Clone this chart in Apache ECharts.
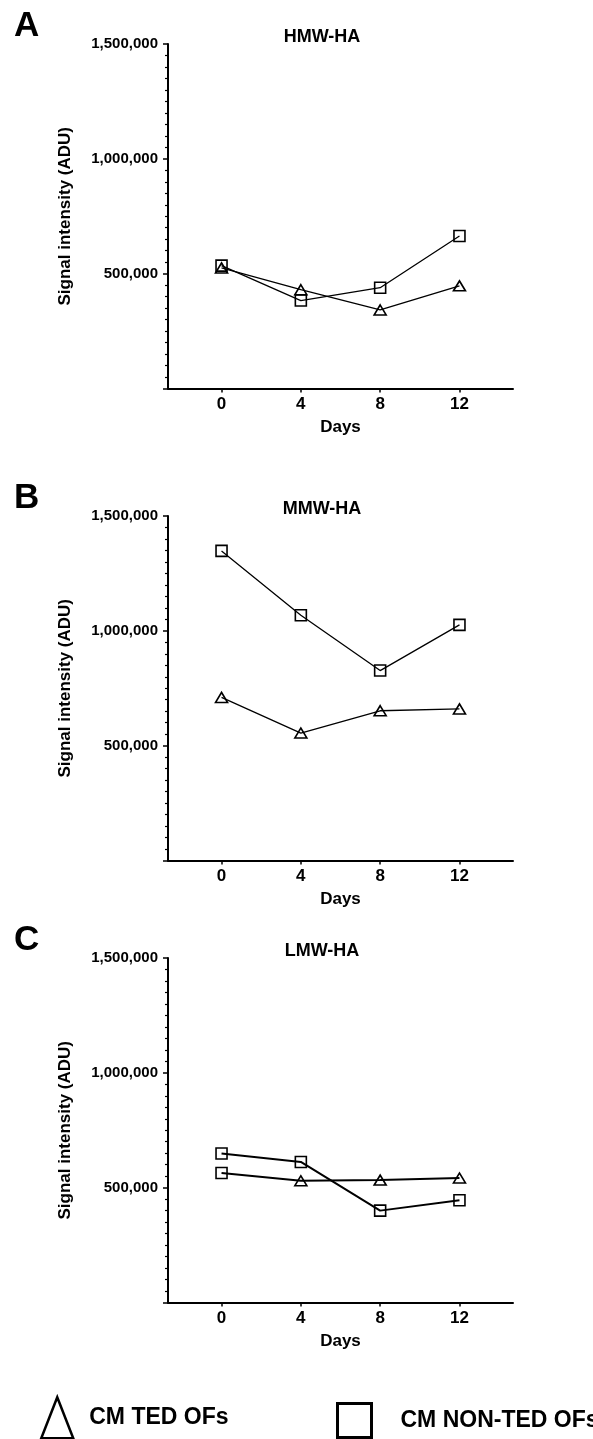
<!DOCTYPE html>
<html>
<head>
<meta charset="utf-8">
<script src="https://cdn.jsdelivr.net/npm/echarts@6/dist/echarts.min.js"></script>
<style>
html,body{margin:0;padding:0;background:#fff;}
#chart{width:593px;height:1439px;}
</style>
</head>
<body>
<div id="chart"></div>
<script>
// ---- data ----
const days = [0, 4, 8, 12];
const xTickLabels = [0, 4, 8, 12];
const yTicks = [0, 500000, 1000000, 1500000];
const panelTitles = ['HMW-HA', 'MMW-HA', 'LMW-HA'];
const panelLetters = ['A', 'B', 'C'];
const seriesNames = ['CM TED OFs', 'CM NON-TED OFs'];

const hmwTed    = [525000, 430000, 342000, 447000];
const hmwNonTed = [535000, 383000, 439000, 664000];
const mmwTed    = [710000, 555000, 652000, 660000];
const mmwNonTed = [1348000, 1068000, 827000, 1026000];
const lmwTed    = [564000, 530000, 533000, 542000];
const lmwNonTed = [649000, 612000, 400000, 445000];
// marker drawn for each TED point in panel C (day 0 appears as a square in the original)
const lmwTedSymbols = ['rect', 'triangle', 'triangle', 'triangle'];

const panels = [
  {ted: hmwTed, non: hmwNonTed, tedSym: null, lw: 1.3},
  {ted: mmwTed, non: mmwNonTed, tedSym: null, lw: 1.3},
  {ted: lmwTed, non: lmwNonTed, tedSym: lmwTedSymbols, lw: 2}
];

// ---- layout ----
const FONT = '"Liberation Sans", Arial, Helvetica, sans-serif';
const gridTops = [44, 516, 958];
const gridH = 344.5;
const gridLeft = 168, gridRight = 80;

const chart = echarts.init(document.getElementById('chart'), null, {renderer: 'canvas'});

const grids = [], xAxes = [], yAxes = [], series = [], titles = [];
panels.forEach((p, i) => {
  grids.push({left: gridLeft, right: gridRight, top: gridTops[i], height: gridH});
  xAxes.push({
    type: 'value', gridIndex: i, min: -2.7, max: 14.7,
    name: 'Days', nameLocation: 'middle', nameGap: 30,
    nameTextStyle: {fontFamily: FONT, fontWeight: 'bold', fontSize: 17, color: '#000'},
    axisLine: {show: true, onZero: false, lineStyle: {color: '#000', width: 2}},
    axisTick: {show: true, length: 4, customValues: xTickLabels, lineStyle: {color: '#000', width: 1.5}},
    axisLabel: {customValues: xTickLabels, margin: 7, fontFamily: FONT, fontWeight: 'bold', fontSize: 17, color: '#000'},
    splitLine: {show: false}
  });
  yAxes.push({
    type: 'value', gridIndex: i, min: 0, max: 1500000, interval: 500000,
    name: 'Signal intensity (ADU)', nameLocation: 'middle', nameGap: 94,
    nameTextStyle: {fontFamily: FONT, fontWeight: 'bold', fontSize: 17, color: '#000'},
    axisLine: {show: true, onZero: false, lineStyle: {color: '#000', width: 2}},
    axisTick: {show: true, length: 5, lineStyle: {color: '#000', width: 1.5}},
    minorTick: {show: true, splitNumber: 10, length: 3, lineStyle: {color: '#000', width: 1.2}},
    axisLabel: {
      margin: 10, fontFamily: FONT, fontWeight: 'bold', fontSize: 15, color: '#000',
      formatter: v => v === 0 ? '' : v.toLocaleString('en-US')
    },
    splitLine: {show: false}
  });
  const tedData = days.map((d, k) => {
    const item = {value: [d, p.ted[k]]};
    if (p.tedSym) {
      item.symbol = p.tedSym[k];
      if (p.tedSym[k] === 'rect') item.symbolSize = 11;
    }
    return item;
  });
  series.push({
    name: seriesNames[0], type: 'line', xAxisIndex: i, yAxisIndex: i,
    data: tedData, symbol: 'triangle', symbolSize: [12, 10], showAllSymbol: true,
    lineStyle: {color: '#000', width: p.lw},
    itemStyle: {color: 'rgba(255,255,255,0)', borderColor: '#000', borderWidth: 1.6},
    emphasis: {disabled: true}, animation: false, z: 3
  });
  series.push({
    name: seriesNames[1], type: 'line', xAxisIndex: i, yAxisIndex: i,
    data: days.map((d, k) => [d, p.non[k]]), symbol: 'rect', symbolSize: 11,
    lineStyle: {color: '#000', width: p.lw},
    itemStyle: {color: 'rgba(255,255,255,0)', borderColor: '#000', borderWidth: 1.6},
    emphasis: {disabled: true}, animation: false, z: 3
  });
  titles.push({
    text: panelTitles[i], left: 317, textAlign: 'center', top: gridTops[i] - 21,
    textStyle: {fontFamily: FONT, fontWeight: 'bold', fontSize: 18, color: '#000'}
  });
  titles.push({
    text: panelLetters[i], left: 9, top: gridTops[i] - 40,
    textStyle: {fontFamily: FONT, fontWeight: 'bold', fontSize: 35, color: '#000'}
  });
});

const legendText1 = {fontFamily: FONT, fontWeight: 'bold', fontSize: 23, color: '#000', padding: [0, 0, 0, 11]};
const legendText2 = {fontFamily: FONT, fontWeight: 'bold', fontSize: 23, color: '#000', padding: [0, 0, 0, 24]};
chart.setOption({
  backgroundColor: '#fff',
  animation: false,
  title: titles,
  grid: grids,
  xAxis: xAxes,
  yAxis: yAxes,
  series: series,
  legend: [
    {
      data: [{name: seriesNames[0], icon: 'triangle'}], left: 40, top: 1396, padding: 0,
      itemWidth: 32, itemHeight: 41, selectedMode: false,
      itemStyle: {color: '#fff', borderColor: '#000', borderWidth: 2.5},
      textStyle: legendText1
    },
    {
      data: [{name: seriesNames[1], icon: 'rect'}], left: 336, top: 1402, padding: 0,
      itemWidth: 34, itemHeight: 34, selectedMode: false,
      itemStyle: {color: '#fff', borderColor: '#000', borderWidth: 3},
      textStyle: legendText2
    }
  ]
});
</script>
</body>
</html>
